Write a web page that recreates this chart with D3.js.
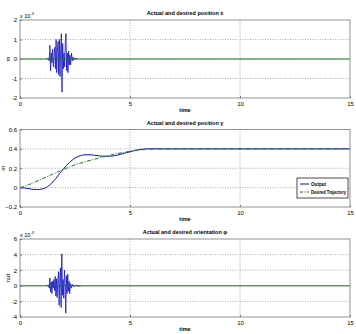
<!DOCTYPE html>
<html>
<head>
<meta charset="utf-8">
<script src="https://cdn.jsdelivr.net/npm/d3@7"></script>
<style>
  body { margin: 0; background: #fff; }
  svg { font-family: "Liberation Sans", Arial, sans-serif; }
  .tick text { font-size: 6px; fill: #000; }
</style>
</head>
<body>
<svg id="chart" width="356" height="334"></svg>
<script>
// time ticks shared by all panels
const timeTicks = [0, 5, 10, 15];

// panel 1: position x (units of 1e-3 m)
const tX = [1.20, 1.30, 1.33, 1.36, 1.39, 1.42, 1.45, 1.48, 1.52, 1.55, 1.58, 1.61, 1.64, 1.67, 1.70,
    1.73, 1.76, 1.79, 1.82, 1.85, 1.88, 1.91, 1.94, 1.97, 2.00, 2.03, 2.06, 2.09, 2.12, 2.15,
    2.18, 2.21, 2.24, 2.27, 2.30, 2.34, 2.38, 2.42, 2.46, 2.52, 2.60];
const xOut = [0, 0.05, -0.1, 0.7, -0.6, 0.3, -0.2, 0.5, -0.4, 0.2, 0.6, -0.5, 1.0, -0.7, 0.4,
    0.9, -0.8, 1.0, -0.9, 0.5, 1.3, -1.7, 0.8, -0.5, 0.3, -0.4, 0.9, 1.3, -0.6, 0.3,
    -0.7, 0.4, -0.3, 0.2, -0.3, 0.3, -0.1, 0.1, -0.05, 0.05, 0];
const xTicks = [-2, -1, 0, 1, 2];

// panel 2: position y (m)
const tY = [0, 0.25, 0.5, 0.75, 1.0, 1.25, 1.5, 1.75, 2.0, 2.25, 2.5, 2.75, 3.0, 3.25, 3.5, 3.75,
    4.0, 4.25, 4.5, 4.75, 5.0, 5.25, 5.5, 5.75, 6.0, 6.5, 7.0, 15];
const yOut = [0, -0.005, -0.015, -0.02, -0.015, 0.01, 0.06, 0.13, 0.2, 0.26, 0.305, 0.33, 0.34, 0.338,
    0.33, 0.325, 0.324, 0.328, 0.34, 0.355, 0.37, 0.385, 0.395, 0.4, 0.401, 0.4, 0.4, 0.4];
const tYd = [0, 0.5, 1, 1.5, 2, 2.5, 3, 3.5, 4, 4.5, 5, 5.5, 6, 7, 15];
const yDes = [0, 0.04, 0.09, 0.14, 0.19, 0.235, 0.27, 0.3, 0.33, 0.355, 0.375, 0.39, 0.398, 0.4, 0.4];
const yTicks = [-0.2, 0, 0.2, 0.4, 0.6];

// panel 3: orientation phi (units of 1e-3 rad)
const tPhi = [1.20, 1.30, 1.33, 1.36, 1.39, 1.42, 1.45, 1.48, 1.51, 1.54, 1.57, 1.60, 1.63, 1.66,
    1.69, 1.72, 1.75, 1.78, 1.81, 1.84, 1.87, 1.90, 1.93, 1.96, 1.99, 2.02, 2.05, 2.08, 2.11,
    2.14, 2.17, 2.20, 2.23, 2.26, 2.29, 2.33, 2.38, 2.44, 2.52, 2.65, 2.75];
const phiOut = [0, 0.1, -0.3, 1.0, -0.8, 0.5, -1.0, 0.6, -0.3, 0.8, -0.6, 1.2, -1.3, 0.9,
    -1.5, 0.7, 1.8, -2.5, 1.0, 2.3, -2.8, 4.1, -1.2, 0.8, -1.6, 2.0, 0.4, -3.5, 1.3,
    -1.0, 1.5, -0.7, 0.6, -1.0, 0.3, -0.3, 0.2, -0.1, 0.05, 0, 0];
const phiTicks = [-4, -2, 0, 2, 4, 6];

const legendLabels = ["Output", "Desired Trajectory"];

const svg = d3.select("#chart");
const blue = "#1010c0", green = "#1a7a1a";

const x = d3.scaleLinear().domain([0, 15]).range([20, 350]);

const panels = [
    { title: "Actual and desired position x", ylab: "m", labX: 10, top: 20, bottom: 98,
      domain: [-2, 2], ticks: xTicks, exp: true,
      out: tX.map((t, i) => [t, xOut[i]]), des: [[0, 0], [15, 0]] },
    { title: "Actual and desired position y", ylab: "m", labX: 5, top: 129.5, bottom: 207,
      domain: [-0.2, 0.6], ticks: yTicks, exp: false,
      out: tY.map((t, i) => [t, yOut[i]]), des: tYd.map((t, i) => [t, yDes[i]]) },
    { title: "Actual and desired orientation \u03c6", ylab: "rad", labX: 10, top: 239, bottom: 317,
      domain: [-4, 6], ticks: phiTicks, exp: true,
      out: tPhi.map((t, i) => [t, phiOut[i]]), des: [[0, 0], [15, 0]] }
];

panels.forEach((p, k) => {
    const y = d3.scaleLinear().domain(p.domain).range([p.bottom, p.top]);
    const g = svg.append("g");

    // grid
    g.selectAll(".gx").data(timeTicks.slice(1, -1)).enter().append("line")
        .attr("x1", d => x(d)).attr("x2", d => x(d))
        .attr("y1", p.top).attr("y2", p.bottom)
        .attr("stroke", "#555").attr("stroke-width", 0.5).attr("stroke-dasharray", "1,1.5");
    g.selectAll(".gy").data(p.ticks.slice(1, -1)).enter().append("line")
        .attr("x1", x(0)).attr("x2", x(15))
        .attr("y1", d => y(d)).attr("y2", d => y(d))
        .attr("stroke", "#555").attr("stroke-width", 0.5).attr("stroke-dasharray", "1,1.5");

    const line = d3.line().x(d => x(d[0])).y(d => y(d[1]));
    if (k === 1) {
        g.append("path").attr("d", line.curve(d3.curveMonotoneX)(p.out))
            .attr("fill", "none").attr("stroke", blue).attr("stroke-width", 1);
        g.append("path").attr("d", line.curve(d3.curveMonotoneX)(p.des))
            .attr("fill", "none").attr("stroke", green).attr("stroke-width", 1)
            .attr("stroke-dasharray", "4,1.5,1,1.5");
    } else {
        g.append("path").attr("d", line.curve(d3.curveLinear)(p.out))
            .attr("fill", "none").attr("stroke", blue).attr("stroke-width", 0.8);
        g.append("path").attr("d", line.curve(d3.curveLinear)(p.des))
            .attr("fill", "none").attr("stroke", green).attr("stroke-width", 1);
    }

    // frame
    g.append("rect").attr("x", x(0)).attr("y", p.top)
        .attr("width", x(15) - x(0)).attr("height", p.bottom - p.top)
        .attr("fill", "none").attr("stroke", "#777").attr("stroke-width", 0.8);

    // axes
    g.append("g").attr("transform", "translate(0," + p.bottom + ")")
        .call(d3.axisBottom(x).tickValues(timeTicks).tickSize(-2).tickPadding(4)
            .tickFormat(d3.format("d")))
        .call(a => a.select(".domain").remove())
        .call(a => a.selectAll("line").attr("stroke", "#777"));
    g.append("g").attr("transform", "translate(" + x(0) + ",0)")
        .call(d3.axisLeft(y).tickValues(p.ticks).tickSize(-2).tickPadding(3)
            .tickFormat(d => (k === 1 && d !== 0) ? d3.format(".1f")(d) : d))
        .call(a => a.select(".domain").remove())
        .call(a => a.selectAll("line").attr("stroke", "#777"));

    // titles and labels
    g.append("text").attr("x", 185).attr("y", p.top - 5).attr("text-anchor", "middle")
        .attr("font-size", 5.5).attr("font-weight", "bold").text(p.title);
    g.append("text").attr("x", 185).attr("y", p.bottom + 14).attr("text-anchor", "middle")
        .attr("font-size", 5.5).attr("font-weight", "bold").text("time");
    g.append("text").attr("transform", "translate(" + p.labX + "," + ((p.top + p.bottom) / 2) + ") rotate(-90)")
        .attr("text-anchor", "middle").attr("font-size", 5.5).text(p.ylab);
    if (p.exp) {
        const e = g.append("text").attr("x", 20).attr("y", p.top - 2).attr("font-size", 5.5);
        e.append("tspan").text("x 10");
        e.append("tspan").attr("dy", -3).attr("font-size", 4).text("-3");
    }

    if (k === 1) {
        const lg = g.append("g").attr("transform", "translate(297,178)");
        lg.append("rect").attr("width", 51).attr("height", 20)
            .attr("fill", "#fff").attr("stroke", "#000").attr("stroke-width", 0.7);
        legendLabels.forEach((lab, i) => {
            lg.append("line").attr("x1", 3).attr("x2", 12).attr("y1", 6 + i * 8).attr("y2", 6 + i * 8)
                .attr("stroke", i ? green : blue).attr("stroke-width", 1)
                .attr("stroke-dasharray", i ? "3,1.5,1,1.5" : null);
            const t = lg.append("text").attr("x", 14).attr("y", 7.8 + i * 8).attr("font-size", 4.6)
                .attr("font-weight", "bold").text(lab);
            if (i) t.attr("textLength", 35).attr("lengthAdjust", "spacingAndGlyphs");
        });
    }
});
</script>
</body>
</html>
